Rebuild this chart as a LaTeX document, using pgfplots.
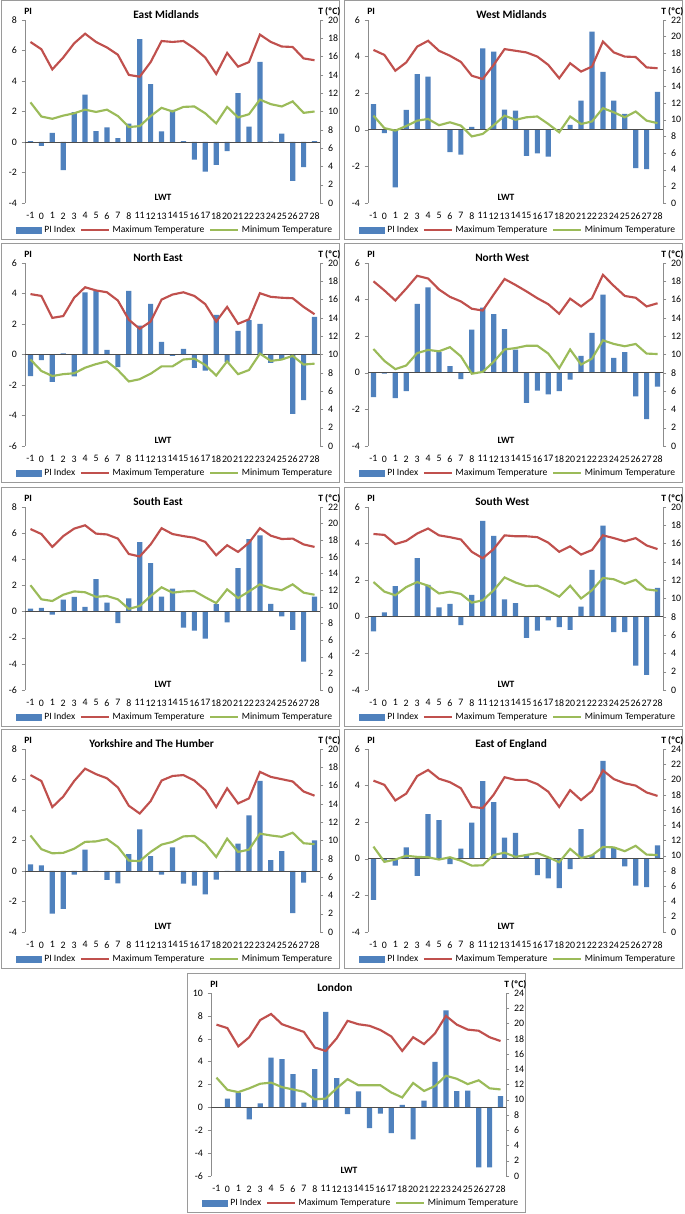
\documentclass[border=0pt]{standalone}
\usepackage{fontspec}
\setmainfont{Carlito}
\usepackage{pgfplots}
\usepackage{pgfplotstable}
\pgfplotsset{compat=1.18}
\definecolor{piblue}{HTML}{4F81BD}
\definecolor{maxred}{HTML}{C0504D}
\definecolor{mingreen}{HTML}{9BBB59}
\definecolor{axgray}{HTML}{8C8C8C}
\definecolor{framegray}{HTML}{9A9A9A}
\def\pxu{0.75pt}
\newcommand\tickfont{\fontsize{7.4}{8.5}\selectfont}
\newcommand\titlefont{\fontsize{8.5}{10}\selectfont\bfseries}
\newcommand\lblfont{\fontsize{7.2}{8}\selectfont\bfseries}

\pgfplotstableread{
i pi tmax tmin
0 0.05 17.6 11.0
1 -0.25 16.8 9.45
2 0.6 14.6 9.2
3 -1.85 15.9 9.55
4 1.95 17.45 9.8
5 3.1 18.5 10.2
6 0.72 17.6 9.95
7 0.95 17.0 10.2
8 0.25 16.2 9.5
9 1.2 14.0 8.3
10 6.75 13.8 8.4
11 3.8 15.4 9.5
12 0.7 17.7 10.4
13 2.1 17.6 10.0
14 0.05 17.7 10.5
15 -1.15 16.9 10.55
16 -1.95 15.9 9.8
17 -1.5 14.1 8.7
18 -0.6 16.4 10.5
19 3.2 14.9 9.35
20 1.0 15.4 9.7
21 5.25 18.4 11.3
22 0.03 17.6 10.8
23 0.55 17.1 10.55
24 -2.55 17.05 11.1
25 -1.65 15.8 9.85
26 0.05 15.6 10.0
}\tEM
\pgfplotstableread{
i pi tmax tmin
0 1.4 18.4 10.5
1 -0.18 17.8 9.0
2 -3.15 15.9 8.7
3 1.09 16.9 9.25
4 3.04 18.8 9.9
5 2.91 19.5 10.1
6 0 18.3 9.35
7 -1.22 17.7 9.7
8 -1.36 16.96 9.3
9 0.16 15.3 8.0
10 4.45 14.9 8.3
11 4.27 16.6 9.35
12 1.1 18.5 10.5
13 1.05 18.3 10.0
14 -1.42 18.1 10.3
15 -1.29 17.6 10.4
16 -1.47 16.6 9.5
17 0 15.0 8.5
18 0.27 16.8 10.4
19 1.6 15.8 9.5
20 5.36 16.4 9.8
21 3.16 19.4 11.4
22 1.6 18.1 10.9
23 0.87 17.6 10.3
24 -2.09 17.55 11.0
25 -2.15 16.3 9.9
26 2.07 16.2 9.6
}\tWM
\pgfplotstableread{
i pi tmax tmin
0 -1.42 16.6 9.45
1 -0.37 16.4 8.2
2 -1.8 14.0 7.65
3 0.08 14.2 7.85
4 -1.44 16.2 7.95
5 4.08 17.35 8.55
6 4.15 17.0 8.95
7 0.3 16.8 9.25
8 -0.83 15.9 8.3
9 4.17 13.8 7.05
10 1.9 12.8 7.3
11 3.32 13.6 7.9
12 0.83 16.0 8.7
13 -0.09 16.55 8.7
14 0.37 16.8 9.45
15 -0.87 16.4 9.55
16 -1.05 15.5 8.85
17 2.6 13.6 7.7
18 -0.5 15.2 9.25
19 1.55 13.35 7.85
20 2.25 13.85 8.3
21 2.0 16.7 10.1
22 -0.55 16.3 9.3
23 -0.33 16.2 9.45
24 -3.9 16.15 9.85
25 -2.99 15.2 8.9
26 2.47 14.4 9.0
}\tNE
\pgfplotstableread{
i pi tmax tmin
0 -1.33 18.0 10.6
1 -0.05 17.0 9.3
2 -1.38 15.9 8.4
3 -1.0 17.2 8.8
4 3.76 18.6 10.15
5 4.67 18.3 10.5
6 1.13 17.1 10.35
7 0.36 16.3 10.8
8 -0.35 15.8 9.8
9 2.36 15.0 7.9
10 3.56 14.8 8.1
11 3.2 16.55 9.2
12 2.38 18.25 10.55
13 1.27 17.6 10.7
14 -1.65 16.9 10.95
15 -0.98 16.15 10.95
16 -1.18 15.5 10.1
17 -1.0 14.45 8.5
18 -0.38 16.1 10.55
19 0.93 15.25 8.9
20 2.18 16.15 9.55
21 4.27 18.7 11.55
22 0.82 17.5 11.15
23 1.13 16.4 10.9
24 -1.29 16.2 11.15
25 -2.53 15.25 10.1
26 -0.75 15.6 10.05
}\tNW
\pgfplotstableread{
i pi tmax tmin
0 0.23 19.35 12.6
1 0.28 18.75 10.9
2 -0.23 17.2 10.7
3 0.92 18.5 11.45
4 1.12 19.4 11.85
5 0.36 19.8 11.75
6 2.48 18.8 11.2
7 0.69 18.7 11.3
8 -0.89 18.2 10.9
9 1.0 16.35 9.75
10 5.31 16.05 10.1
11 3.7 17.5 11.3
12 1.15 19.45 12.35
13 1.76 18.75 11.7
14 -1.23 18.5 11.85
15 -1.46 18.3 11.9
16 -2.07 17.8 11.15
17 0.56 16.2 10.45
18 -0.82 17.4 12.1
19 3.32 16.6 11.05
20 5.54 17.7 11.85
21 5.83 19.45 12.7
22 0.59 18.55 12.25
23 -0.36 18.15 12.0
24 -1.4 18.2 12.7
25 -3.83 17.5 11.7
26 1.15 17.2 11.45
}\tSE
\pgfplotstableread{
i pi tmax tmin
0 -0.8 17.05 11.8
1 0.24 16.95 10.75
2 1.67 15.95 10.35
3 0 16.3 11.25
4 3.2 17.1 11.8
5 1.75 17.65 11.4
6 0.51 16.9 10.55
7 0.71 16.7 10.75
8 -0.45 16.45 10.5
9 1.2 15.1 9.55
10 5.24 14.4 9.8
11 4.42 15.4 10.9
12 0.95 16.9 12.3
13 0.75 16.8 11.75
14 -1.15 16.8 11.35
15 -0.75 16.7 11.4
16 -0.2 16.1 10.85
17 -0.56 15.1 10.2
18 -0.71 15.7 11.4
19 0.56 14.8 10.0
20 2.56 15.3 10.9
21 4.98 16.9 12.25
22 -0.84 16.6 12.1
23 -0.84 16.25 11.6
24 -2.67 16.6 12.05
25 -3.18 15.8 11.0
26 1.58 15.4 10.85
}\tSW
\pgfplotstableread{
i pi tmax tmin
0 0.44 17.15 10.55
1 0.37 16.5 9.05
2 -2.8 13.65 8.6
3 -2.49 14.8 8.65
4 -0.24 16.5 9.1
5 1.4 17.85 9.85
6 0 17.25 9.9
7 -0.59 16.8 10.15
8 -0.81 15.8 9.3
9 1.1 13.8 7.8
10 2.73 12.95 7.75
11 0.98 14.3 8.75
12 -0.24 16.55 9.55
13 1.55 17.05 9.85
14 -0.83 17.15 10.45
15 -0.96 16.55 10.5
16 -1.53 15.5 9.65
17 -0.57 13.65 8.2
18 -0.04 15.7 10.2
19 1.79 14.05 8.75
20 3.64 14.6 9.0
21 5.91 17.5 10.75
22 0.72 16.95 10.55
23 1.31 16.7 10.4
24 -2.77 16.45 10.85
25 -0.76 15.35 9.7
26 2.0 14.9 9.6
}\tYH
\pgfplotstableread{
i pi tmax tmin
0 -2.24 19.85 11.2
1 -0.1 19.3 9.2
2 -0.38 17.25 9.5
3 0.62 18.15 10.0
4 -0.93 20.45 9.85
5 2.44 21.25 9.8
6 2.11 20.1 9.5
7 -0.29 19.65 9.8
8 0.55 18.85 9.35
9 1.98 16.4 8.7
10 4.24 16.25 8.75
11 3.09 18.0 10.1
12 1.15 20.3 10.4
13 1.42 19.95 9.85
14 0.22 19.95 10.1
15 -0.89 19.4 10.35
16 -1.07 18.4 9.8
17 -1.6 16.4 9.15
18 -0.56 18.6 10.9
19 1.62 17.3 9.7
20 0.22 18.5 10.05
21 5.35 21.2 11.15
22 0.58 20.05 11.1
23 -0.42 19.5 10.6
24 -1.47 19.2 11.3
25 -1.55 18.3 10.15
26 0.73 17.85 10.1
}\tEE
\pgfplotstableread{
i pi tmax tmin
0 0 19.85 12.9
1 0.77 19.4 11.3
2 1.3 17.0 11.0
3 -1.04 18.2 11.5
4 0.34 20.45 12.1
5 4.36 21.25 12.25
6 4.22 19.9 11.65
7 2.9 19.4 11.35
8 0.42 18.9 11.05
9 3.34 16.85 10.05
10 8.36 16.4 10.15
11 2.55 18.05 11.5
12 -0.6 20.35 12.7
13 1.39 19.9 11.9
14 -1.82 19.7 11.9
15 -0.54 19.15 11.9
16 -2.26 18.3 10.95
17 0.22 16.4 10.3
18 -2.79 18.2 12.2
19 0.6 17.3 11.15
20 3.98 18.7 11.8
21 8.48 21.0 13.15
22 1.42 19.85 12.75
23 1.47 19.2 12.05
24 -5.24 19.05 12.55
25 -5.24 18.2 11.5
26 0.98 17.7 11.35
}\tLO

\pgfplotsset{
  panelbase/.style={
    scale only axis, width=221.25pt, height=137.25pt,
    anchor=south west, xmin=-0.5, xmax=26.5,
    /pgf/number format/assume math mode=true,
    tick label style={font=\tickfont, text=black},
    major tick length=2.5pt, tick align=outside,
    ytick distance=2,
  },
  leftax/.style={panelbase,
    axis y line*=left, axis x line*=bottom,
    x axis line style={draw=none}, xtick style={draw=none},
    y axis line style={axgray}, ytick style={axgray},
    xtick={0,...,26},
    xticklabels={-1,0,1,2,3,4,5,6,7,8,11,12,13,14,15,16,17,18,20,21,22,23,24,25,26,27,28},
    xticklabel style={yshift=-1.2pt},
  },
  rightax/.style={panelbase,
    axis y line*=right, axis x line=none, ymin=0,
    y axis line style={axgray}, ytick style={axgray},
    legend columns=3,
    legend style={at={(0.51,-0.1475)}, anchor=center, draw=none, fill=none,
      font=\fontsize{7.2}{8.5}\selectfont, inner sep=0pt,
      /tikz/every even column/.append style={column sep=1.5pt}},
  },
}

\newcommand{\panel}[7]{%
  \draw[framegray, line width=0.75pt] ({(#1+1)*\pxu},{(1214-#2-1)*\pxu}) rectangle ({(#1+339)*\pxu},{(1214-#2-240)*\pxu});
  \begin{axis}[leftax, at={({(#1+25)*\pxu},{(1214-#2-203)*\pxu})}, #5]
    \addplot[ybar, bar width=3.9pt, fill=piblue, draw=none] table[x=i,y=pi]{#4};
    \draw[black!70, line width=0.5pt] (axis cs:-0.5,0) -- (axis cs:26.5,0);
  \end{axis}
  \begin{axis}[rightax, at={({(#1+25)*\pxu},{(1214-#2-203)*\pxu})}, #6]
    \addlegendimage{legend image code/.code={\fill[piblue] (0pt,-2.1pt) rectangle (18.75pt,2.1pt);}}
    \addlegendentry{PI Index}
    \addplot[maxred, line width=1.6pt, legend image code/.code={\draw[maxred, line width=1.6pt] (0pt,0pt) -- (21pt,0pt);}] table[x=i,y=tmax]{#4};
    \addlegendentry{Maximum Temperature}
    \addplot[mingreen, line width=1.6pt, legend image code/.code={\draw[mingreen, line width=1.6pt] (0pt,0pt) -- (21pt,0pt);}] table[x=i,y=tmin]{#4};
    \addlegendentry{Minimum Temperature}
  \end{axis}
  \node[font=\titlefont, anchor=base west, inner sep=0pt] at ({(#1+#7)*\pxu},{(1214-#2-18.5)*\pxu}) {#3};
  \node[font=\lblfont, anchor=base west, inner sep=0pt] at ({(#1+24)*\pxu},{(1214-#2-15)*\pxu}) {PI};
  \node[font=\lblfont, anchor=base west, inner sep=0pt] at ({(#1+318)*\pxu},{(1214-#2-15)*\pxu}) {T (ºC)};
  \node[font=\lblfont, anchor=center, inner sep=0pt] at ({(#1+163)*\pxu},{(1214-#2-197)*\pxu}) {LWT};
}

\begin{document}
\begin{tikzpicture}
\useasboundingbox (0,0) rectangle (513.75pt,910.5pt);
\fill[white] (0,0) rectangle (513.75pt,910.5pt);
\panel{0}{0}{East Midlands}{\tEM}{ymin=-4,ymax=8}{ymax=20}{133}
\panel{343}{0}{West Midlands}{\tWM}{ymin=-4,ymax=6}{ymax=22}{133}
\panel{0}{243}{North East}{\tNE}{ymin=-6,ymax=6}{ymax=20}{133}
\panel{343}{243}{North West}{\tNW}{ymin=-4,ymax=6}{ymax=20}{132}
\panel{0}{487}{South East}{\tSE}{ymin=-6,ymax=8}{ymax=22}{133}
\panel{343}{487}{South West}{\tSW}{ymin=-4,ymax=6}{ymax=20}{132}
\panel{0}{729}{Yorkshire and The Humber}{\tYH}{ymin=-4,ymax=8}{ymax=20}{89}
\panel{343}{729}{East of England}{\tEE}{ymin=-4,ymax=6}{ymax=24}{132}
\panel{186}{973}{London}{\tLO}{ymin=-6,ymax=10}{ymax=24}{131}
\end{tikzpicture}
\end{document}
